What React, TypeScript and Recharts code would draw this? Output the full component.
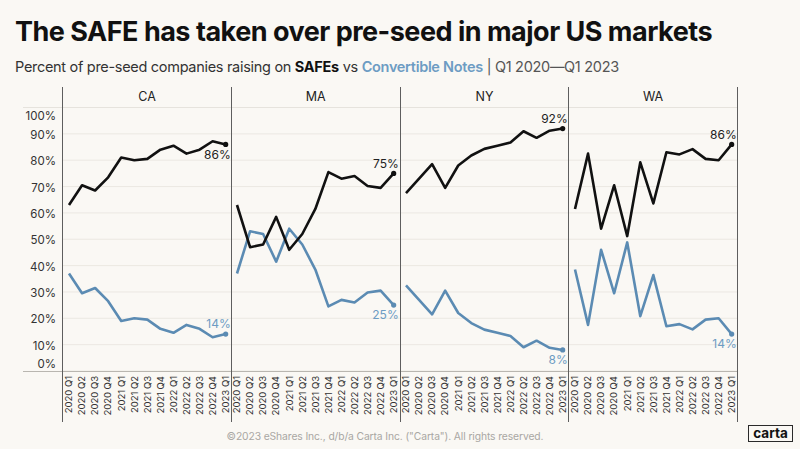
import React from 'react';
import { LineChart, Line, XAxis, YAxis, CartesianGrid } from 'recharts';

const QUARTERS = [
  '2020 Q1', '2020 Q2', '2020 Q3', '2020 Q4',
  '2021 Q1', '2021 Q2', '2021 Q3', '2021 Q4',
  '2022 Q1', '2022 Q2', '2022 Q3', '2022 Q4',
  '2023 Q1'
];
const Y_TICKS = [0, 10, 20, 30, 40, 50, 60, 70, 80, 90, 100];

// share of pre-seed rounds on SAFEs vs convertible notes, per state
const CA_SAFE = [63, 70.5, 68.5, 73.5, 81, 80, 80.5, 84, 85.5, 82.5, 84, 87.2, 86];
const CA_NOTES = [37, 29.5, 31.5, 26.5, 19, 20, 19.5, 16, 14.5, 17.5, 16, 12.8, 14];
const MA_SAFE = [63, 47, 48, 58.5, 46, 52, 61.5, 75.5, 73, 74, 70.2, 69.5, 75];
const MA_NOTES = [37, 53, 52, 41.5, 54, 48, 38.5, 24.5, 27, 26, 29.8, 30.5, 25];
const NY_SAFE = [67.5, 73, 78.5, 69.5, 78, 81.8, 84.3, 85.5, 86.7, 91, 88.5, 91.2, 92];
const NY_NOTES = [32.5, 27, 21.5, 30.5, 22, 18.2, 15.7, 14.5, 13.3, 9, 11.5, 8.8, 8];
const WA_SAFE = [61.5, 82.5, 54, 70.5, 51.2, 79.2, 63.6, 83, 82.2, 84.2, 80.5, 80, 86];
const WA_NOTES = [38.5, 17.5, 46, 29.5, 48.8, 20.8, 36.4, 17, 17.8, 15.8, 19.5, 20, 14];

const BG = '#faf8f4';
const SAFE_COLOR = '#111111';
const NOTES_COLOR = '#5b8bb3';
const NOTES_TEXT = '#6d9cc3';
const FONT = 'Inter, "Noto Sans", sans-serif';

const PANEL_W = 168.7;
const AXIS_W = 40;
const FIRST_LEFT = 62.7;
const CHART_TOP = 100;
const CHART_H = 322;

const panels = [
  { state: 'CA', safe: CA_SAFE, notes: CA_NOTES, safeAbove: false },
  { state: 'MA', safe: MA_SAFE, notes: MA_NOTES, safeAbove: true },
  { state: 'NY', safe: NY_SAFE, notes: NY_NOTES, safeAbove: true },
  { state: 'WA', safe: WA_SAFE, notes: WA_NOTES, safeAbove: true }
];

const endDot = (series: number[], color: string, textColor: string, above: boolean) => (p: any) => {
  const { cx, cy, index } = p;
  if (index !== QUARTERS.length - 1) return <g key={`d-${index}`} />;
  return (
    <g key={`d-${index}`}>
      <circle cx={cx} cy={cy} r={2.6} fill={color} />
      <text
        x={cx + 5}
        y={above ? cy - 10 : cy + 10}
        dy="0.35em"
        textAnchor="end"
        fontSize={12}
        fontFamily={FONT}
        fill={textColor}
      >
        {`${Math.round(series[index])}%`}
      </text>
    </g>
  );
};

const QuarterTick = (p: any) => {
  const { x, y, payload } = p;
  return (
    <text
      transform={`translate(${x},${y + 3}) rotate(-90)`}
      textAnchor="end"
      dy="0.35em"
      fontSize={9.5}
      fontFamily={FONT}
      fill="#333"
    >
      {payload.value}
    </text>
  );
};

const PercentTick = (p: any) => {
  const { x, y, payload } = p;
  let shift = 1;
  if (payload.value === 100) shift = 7;
  if (payload.value === 0) shift = -7;
  return (
    <text x={x - 5} y={y + shift} dy="0.35em" textAnchor="end" fontSize={11.5} fontFamily={FONT} fill="#333">
      {`${payload.value}%`}
    </text>
  );
};

const Panel = ({ idx }: { idx: number }) => {
  const cfg = panels[idx];
  const withAxis = idx === 0;
  const data = QUARTERS.map((q, i) => ({ q, safe: cfg.safe[i], notes: cfg.notes[i] }));
  const left = FIRST_LEFT + idx * PANEL_W - (withAxis ? AXIS_W : 0);
  const width = PANEL_W + (withAxis ? AXIS_W : 0);
  return (
    <div style={{ position: 'absolute', left, top: CHART_TOP }}>
      <LineChart width={width} height={CHART_H} data={data} margin={{ top: 7.5, right: 0, bottom: 0, left: 0 }}>
        <CartesianGrid vertical={false} stroke="#ebe8e2" strokeWidth={1} />
        <XAxis
          dataKey="q"
          interval={0}
          height={51}
          axisLine={false}
          tickLine={false}
          tickSize={0}
          padding={{ left: 6, right: 6 }}
          tick={<QuarterTick />}
        />
        {withAxis ? (
          <YAxis
            width={AXIS_W}
            domain={[0, 100]}
            ticks={Y_TICKS}
            axisLine={false}
            tickLine={false}
            tickSize={0}
            tick={<PercentTick />}
          />
        ) : (
          <YAxis hide domain={[0, 100]} ticks={Y_TICKS} />
        )}
        <Line
          dataKey="notes"
          stroke={NOTES_COLOR}
          strokeWidth={2.6}
          strokeLinejoin="round"
          dot={endDot(cfg.notes, NOTES_COLOR, NOTES_TEXT, !cfg.safeAbove)}
          activeDot={false}
          isAnimationActive={false}
        />
        <Line
          dataKey="safe"
          stroke={SAFE_COLOR}
          strokeWidth={2.6}
          strokeLinejoin="round"
          dot={endDot(cfg.safe, SAFE_COLOR, '#222', cfg.safeAbove)}
          activeDot={false}
          isAnimationActive={false}
        />
      </LineChart>
    </div>
  );
};

export default function App() {
  const seps = [0, 1, 2, 3, 4].map((i) => FIRST_LEFT + i * PANEL_W);
  return (
    <div style={{ position: 'absolute', left: 0, top: 0, width: 800, height: 449, background: BG, fontFamily: FONT, overflow: 'hidden' }}>
      <div style={{ position: 'absolute', left: 15, top: 18, fontSize: 27, fontWeight: 700, lineHeight: 1, color: '#111', letterSpacing: -0.5, whiteSpace: 'nowrap' }}>
        The SAFE has taken over pre-seed in major US markets
      </div>
      <div style={{ position: 'absolute', left: 15, top: 60, fontSize: 14.5, lineHeight: 1, color: '#333', letterSpacing: -0.3, whiteSpace: 'nowrap' }}>
        Percent of pre-seed companies raising on <b style={{ color: '#111' }}>SAFEs</b> vs{' '}
        <span style={{ color: NOTES_TEXT, fontWeight: 600 }}>Convertible Notes</span>
        <span style={{ color: '#555' }}> | Q1 2020—Q1 2023</span>
      </div>

      {panels.map((p, i) => (
        <div
          key={p.state}
          style={{ position: 'absolute', left: FIRST_LEFT + i * PANEL_W, top: 89, width: PANEL_W, textAlign: 'center', fontSize: 12.5, color: '#222' }}
        >
          {p.state}
        </div>
      ))}

      {panels.map((p, i) => (
        <Panel key={p.state} idx={i} />
      ))}

      <div style={{ position: 'absolute', left: 23, top: 107, width: seps[4] - 23, height: 1, background: '#e6e3dd' }} />
      <div style={{ position: 'absolute', left: 23, top: 370.5, width: seps[4] - 23, height: 1, background: '#b9b6b0' }} />
      {seps.map((x) => (
        <div key={x} style={{ position: 'absolute', left: x - 0.6, top: 86.5, width: 1.2, height: 335.5, background: '#5e5e5e' }} />
      ))}

      <div style={{ position: 'absolute', left: 0, top: 429.5, width: 770, textAlign: 'center', fontSize: 10.3, letterSpacing: -0.1, color: '#a9a7a3', whiteSpace: 'nowrap' }}>
        ©2023 eShares Inc., d/b/a Carta Inc. ("Carta"). All rights reserved.
      </div>
      <div style={{ position: 'absolute', left: 748, top: 425, width: 43, height: 15, border: '1.5px solid #2a2a2a', textAlign: 'center', fontSize: 13.5, fontWeight: 700, lineHeight: '14px', color: '#111' }}>
        carta
      </div>
    </div>
  );
}
